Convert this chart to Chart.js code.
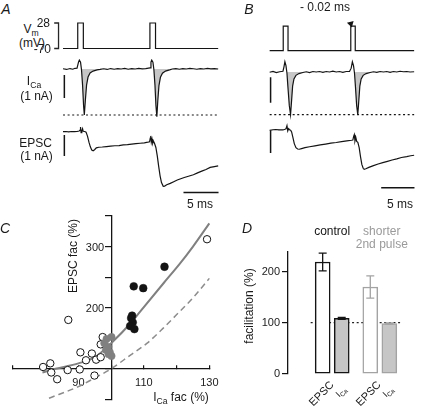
<!DOCTYPE html>
<html><head><meta charset="utf-8">
<script src="https://cdn.jsdelivr.net/npm/chart.js@4.4.1/dist/chart.umd.min.js"></script>
<style>
html,body{margin:0;padding:0;background:#fff}
body{width:424px;height:409px;position:relative;overflow:hidden;font-family:"Liberation Sans",Arial,sans-serif;color:#1a1a1a}
canvas{position:absolute}
.t{position:absolute;font-size:12px;line-height:1;white-space:nowrap}
.t sub{font-size:0.72em;vertical-align:-0.35em;line-height:0}
</style></head><body>
<canvas id="cA" width="172" height="210" style="left:48px;top:0"></canvas>
<canvas id="cB" width="163" height="210" style="left:259px;top:0"></canvas>
<canvas id="cC" width="230" height="209" style="left:0;top:200px"></canvas>
<canvas id="cD" width="176" height="150" style="left:248px;top:236px"></canvas>
<script>
// ---------------- DATA ----------------
const aVm = [[0,-70],[2.1,-70],[2.1,28],[2.9,28],[2.9,-70],[12.4,-70],[12.4,28],[13.2,28],[13.2,-70],[22.14,-70]];
const aICa = [[0,0.01],[0.5,-0.02],[1.0,0.02],[1.4,-0.01],[1.71,0.03],[2.0,0.04],[2.21,0.30],[2.33,0.39],[2.5,0.30],[2.64,-0.04],[2.79,-0.70],[2.93,-1.57],[3.04,-2.0],[3.19,-1.35],[3.36,-0.70],[3.57,-0.35],[3.86,-0.17],[4.29,-0.09],[4.86,-0.04],[5.29,-0.02],[5.8,0.01],[6.3,-0.02],[6.8,0.02],[7.3,-0.01],[7.8,0.02],[8.3,0.0],[8.8,0.03],[9.3,-0.01],[9.8,0.02],[10.3,0.0],[10.8,0.03],[11.3,0.01],[11.8,0.02],[12.2,0.04],[12.43,0.05],[12.55,0.30],[12.66,0.39],[12.83,0.30],[12.97,-0.04],[13.12,-0.70],[13.26,-1.6],[13.39,-2.07],[13.52,-1.4],[13.69,-0.72],[13.9,-0.36],[14.19,-0.18],[14.62,-0.09],[15.2,-0.04],[15.6,0.0],[16.1,0.02],[16.6,-0.01],[17.1,0.02],[17.6,0.0],[18.1,0.03],[18.6,0.01],[19.1,-0.01],[19.6,0.02],[20.1,0.0],[20.6,0.03],[21.1,0.01],[21.6,0.02],[22.14,0.0]];
const aEPSC = [[0,0],[0.4,0.01],[0.8,-0.01],[1.2,0.01],[1.6,0],[2,0.01],[2.3,0.03],[2.43,0.08],[2.5,0.22],[2.58,-0.05],[2.68,0.02],[2.79,0.14],[2.88,0.02],[3.1,0.01],[3.29,-0.02],[3.5,-0.22],[3.7,-0.5],[3.9,-0.72],[4.1,-0.87],[4.3,-0.91],[4.5,-0.86],[4.75,-0.77],[5.1,-0.74],[5.6,-0.73],[6.2,-0.71],[6.8,-0.69],[7.4,-0.67],[8,-0.66],[8.6,-0.63],[9.2,-0.62],[9.8,-0.59],[10.4,-0.57],[11,-0.55],[11.6,-0.53],[12.1,-0.5],[12.35,-0.48],[12.45,-0.3],[12.52,-0.2],[12.6,-0.5],[12.7,-0.35],[12.8,-0.55],[12.9,-0.45],[13.05,-0.55],[13.25,-0.75],[13.45,-1.15],[13.65,-1.65],[13.85,-2.1],[14.05,-2.42],[14.3,-2.6],[14.5,-2.59],[14.8,-2.53],[15.3,-2.46],[15.8,-2.38],[16.3,-2.3],[16.7,-2.25],[17.3,-2.18],[17.9,-2.12],[18.6,-2.05],[19.2,-1.96],[19.8,-1.88],[20.4,-1.8],[21,-1.7],[21.6,-1.66],[22.14,-1.63]];
const aShade = [[2.6,5.4],[12.95,15.3]];
const aCaPeak = -2.0;
const bVm = [[0,-70],[2.04,-70],[2.04,28],[2.76,28],[2.76,-70],[12.19,-70],[12.19,28],[12.86,28],[12.86,-70],[21.71,-70]];
const bICa = [[0,-0.01],[0.5,0.02],[1.0,-0.02],[1.5,0.01],[2.0,0.03],[2.15,0.2],[2.29,0.40],[2.45,0.25],[2.6,-0.05],[2.75,-0.6],[2.95,-1.3],[3.14,-1.66],[3.3,-1.1],[3.45,-0.55],[3.65,-0.27],[3.95,-0.13],[4.4,-0.06],[5.0,-0.02],[5.5,0.01],[6.0,-0.02],[6.5,0.02],[7.0,0.0],[7.5,0.02],[8.0,-0.01],[8.5,0.02],[9.0,0.0],[9.5,0.03],[10.0,0.0],[10.5,0.02],[11.0,-0.01],[11.5,0.02],[12.0,0.02],[12.25,0.15],[12.43,0.40],[12.6,0.25],[12.75,-0.05],[12.9,-0.6],[13.07,-1.3],[13.24,-1.66],[13.4,-1.1],[13.55,-0.55],[13.75,-0.27],[14.05,-0.13],[14.5,-0.06],[15.1,-0.02],[15.6,0.01],[16.1,-0.01],[16.6,0.02],[17.1,0.0],[17.6,0.02],[18.1,-0.01],[18.6,0.02],[19.1,0.0],[19.6,0.03],[20.1,0.01],[20.6,0.02],[21.1,0.0],[21.71,0.01]];
const bEPSC = [[0,-0.03],[0.5,0],[0.9,0.01],[1.4,-0.01],[2,-0.01],[2.3,0.02],[2.45,0.04],[2.6,0.18],[2.72,-0.05],[2.85,0.05],[2.98,0],[3.15,-0.02],[3.3,-0.1],[3.5,-0.35],[3.7,-0.62],[3.95,-0.8],[4.2,-0.86],[4.45,-0.87],[4.8,-0.84],[5.3,-0.8],[6,-0.76],[6.8,-0.72],[7.6,-0.68],[8.4,-0.64],[9.2,-0.6],[10,-0.57],[10.8,-0.53],[11.6,-0.5],[12.3,-0.47],[12.5,-0.46],[12.62,-0.3],[12.72,-0.22],[12.82,-0.5],[12.95,-0.35],[13.08,-0.52],[13.25,-0.56],[13.45,-0.8],[13.65,-1.2],[13.85,-1.55],[14.05,-1.72],[14.2,-1.77],[14.45,-1.74],[14.9,-1.68],[15.6,-1.6],[16.3,-1.53],[17,-1.47],[17.7,-1.41],[18.4,-1.35],[19.1,-1.3],[19.8,-1.24],[20.6,-1.2],[21.2,-1.16],[21.71,-1.14]];
const bShade = [[2.55,5.1],[12.7,15.2]];
const bCaPeak = -1.66;
const bArrow = [12.19, 37.6];
const vmTickLabels = ['28','-70'];
const vmTickValues = [28,-70];
const barNA = 1, barMs = 5;

const cOpenX = [79.2,81.4,81.7,83.5,86.9,86.7,90.4,90.6,92.3,94.1,94.9,95.4,96.8,97.4,96.8,129.3];
const cOpenY = [103,109,94,83,180,98,99,127,114,125,89,115,119,152,140,312];
const cGrayX = [100.1,98.6,97.9,99.1,98.4,99.6,100.1,99.2];
const cGrayY = [152,149,142,136,131,127,121,124];
const cBlackX = [106.9,109.8,116.3,106.4,106.1,106.6,105.8,107.1];
const cBlackY = [235,232,267,187,183,176,170,165];
const cFitX = [79,83,90,95,100,106,108.6,116,121,125,130];
const cFitY = [94,100,109,119,142,175,192,240,272,300,338];
const cPredX = [81,90,96,100,106,111,116,121,125,130];
const cPredY = [52,71,88,100,123,142,167,194,216,248];
const cXLabels = [90,110,130];
const cYLabels = [200,300];

const dCats = ['EPSC','I_Ca','EPSC','I_Ca'];
const dGroups = ['control','shorter<br>2nd pulse'];
const dMean = [219,108.6,170,98.5];
const dErr = [17.5,2,22,1];

// ---------------- LAYOUT / STYLE ----------------
Chart.defaults.font.family = '"Liberation Sans", Arial, sans-serif';
Chart.defaults.font.size = 11;
Chart.defaults.color = '#1a1a1a';
Chart.defaults.plugins.colors = {enabled: false};
const INK = '#141414', GRAYLINE = '#808080', FILLG = '#c6c6c6', EDGEG = '#a3a3a3';

function addText(html, x, y, o = {}) {
  const d = document.createElement('div');
  d.className = 't'; d.innerHTML = html;
  d.style.left = x + 'px'; d.style.top = y + 'px';
  if (o.size) d.style.fontSize = o.size + 'px';
  if (o.color) d.style.color = o.color;
  if (o.italic) d.style.fontStyle = 'italic';
  if (o.center) d.style.textAlign = 'center';
  if (o.lh) d.style.lineHeight = o.lh;
  let tf = o.anchor === 'right' ? 'translate(-100%,-50%)' : 'translate(-50%,-50%)';
  if (o.rot) tf += ' rotate(' + o.rot + 'deg)';
  d.style.transform = tf;
  if (o.anchor === 'right') d.style.transformOrigin = '100% 50%';
  document.body.appendChild(d);
}
const fmt = s => s.replace(/_(\w+)/, '<sub>$1</sub>');
const pts = arr => arr.map(([x, y]) => ({x, y}));
const xy = (X, Y) => X.map((x, i) => ({x, y: Y[i]}));

function traceLine(data, axis, extra = {}) {
  return Object.assign({type: 'line', data: pts(data), yAxisID: axis, borderColor: INK, backgroundColor: INK, borderWidth: 1.2,
    pointRadius: 0, tension: 0, fill: false, order: 1}, extra);
}
function shadeSets(trace, ranges, axis) {
  return ranges.map(([t0, t1]) => ({type: 'line', data: pts(trace.filter(p => p[0] >= t0 && p[0] <= t1)),
    yAxisID: axis, borderWidth: 0, borderColor: FILLG, pointRadius: 0, backgroundColor: FILLG, fill: {value: 0}, order: 5}));
}

function traceChart(id, cfg) {
  const ds = [
    ...shadeSets(cfg.ica, cfg.shade, 'yC'),
    traceLine(cfg.vm, 'yV'),
    traceLine(cfg.ica, 'yC'),
    traceLine(cfg.epsc, 'yE'),
    traceLine([[0, cfg.peak], [cfg.vm[cfg.vm.length - 1][0], cfg.peak]], 'yC', {borderDash: [2, 2.6], borderWidth: 1.1}),
    traceLine([[cfg.sbx, cfg.icaBarTop], [cfg.sbx, cfg.icaBarTop - barNA]], 'yC', {borderWidth: 1.5}),
    traceLine([[cfg.sbx, cfg.epBarTop], [cfg.sbx, cfg.epBarTop - barNA]], 'yE', {borderWidth: 1.5}),
    traceLine([[cfg.tbar, cfg.tbarY], [cfg.tbar + barMs, cfg.tbarY]], 'yE', {borderWidth: 1.5}),
  ];
  if (cfg.bracket) ds.push(traceLine([[cfg.bracket[0], vmTickValues[0]], [cfg.bracket[1], vmTickValues[0]],
    [cfg.bracket[1], vmTickValues[1]], [cfg.bracket[0], vmTickValues[1]]], 'yV', {borderWidth: 1.3, borderColor: '#262626', backgroundColor: '#262626'}));
  if (cfg.arrow) ds.push({type: 'scatter', data: [{x: cfg.arrow[0], y: cfg.arrow[1]}], yAxisID: 'yV',
    pointStyle: 'triangle', rotation: 165, pointRadius: 4, backgroundColor: INK, borderColor: INK, borderWidth: 0, order: 0});
  return new Chart(document.getElementById(id), {
    data: {datasets: ds},
    options: {
      responsive: false, animation: false, devicePixelRatio: 1,
      layout: {padding: 0},
      plugins: {legend: {display: false}, tooltip: {enabled: false}, colors: {enabled: false}},
      elements: {line: {borderCapStyle: 'butt'}},
      scales: {
        x: {type: 'linear', display: false, min: cfg.xmin, max: cfg.xmax},
        yV: {type: 'linear', display: false, min: cfg.vmRange[0], max: cfg.vmRange[1]},
        yC: {type: 'linear', display: false, min: cfg.caRange[0], max: cfg.caRange[1]},
        yE: {type: 'linear', display: false, min: cfg.epRange[0], max: cfg.epRange[1]},
      },
      clip: false
    }
  });
}

traceChart('cA', {vm: aVm, ica: aICa, epsc: aEPSC, shade: aShade, peak: aCaPeak,
  xmin: -2.143, xmax: 22.4, vmRange: [-690.6, 116.4], caRange: [-6.13, 3.0], epRange: [-3.729, 6.271],
  sbx: 0.19, icaBarTop: -0.26, epBarTop: -0.16, tbar: 17.19, tbarY: -2.9,
  bracket: [-1.26, -0.64]});
traceChart('cB', {vm: bVm, ica: bICa, epsc: bEPSC, shade: bShade, peak: bCaPeak,
  xmin: -1.0, xmax: 22.29, vmRange: [-690.6, 116.4], caRange: [-5.217, 2.648], epRange: [-3.403, 5.609],
  sbx: 0.14, icaBarTop: -0.2, epBarTop: -0.04, tbar: 16.76, tbarY: -2.59, arrow: bArrow});

// ---------------- Panel C ----------------
const C_LEFT = 0, C_TOP = 200;
const chartC = new Chart(document.getElementById('cC'), {
  type: 'scatter',
  data: {datasets: [
    {data: xy(cOpenX, cOpenY), pointStyle: 'circle', pointRadius: 3.7, backgroundColor: '#fff', borderColor: INK, borderWidth: 1, order: 1},
    {data: xy(cGrayX, cGrayY), pointStyle: 'circle', pointRadius: 3.7, backgroundColor: GRAYLINE, borderColor: GRAYLINE, borderWidth: 0.5, order: 0},
    {data: xy(cBlackX, cBlackY), pointStyle: 'circle', pointRadius: 3.9, backgroundColor: INK, borderColor: INK, borderWidth: 0.5, order: 0},
    {type: 'line', data: xy(cFitX, cFitY), borderColor: GRAYLINE, borderWidth: 2, pointRadius: 0, cubicInterpolationMode: 'monotone', order: 5},
    {type: 'line', data: xy(cPredX, cPredY), borderColor: '#8c8c8c', borderWidth: 1.5, borderDash: [6, 4], pointRadius: 0, cubicInterpolationMode: 'monotone', order: 5},
  ]},
  options: {
    responsive: false, animation: false, devicePixelRatio: 1,
    layout: {padding: {left: 13, right: 16.5, top: 16, bottom: 7}},
    plugins: {legend: {display: false}, tooltip: {enabled: false}, colors: {enabled: false}},
    clip: false,
    scales: {
      x: {type: 'linear', min: 70, max: 130, position: {y: 100},
        afterFit: s => { s.height = 0; },
        ticks: {stepSize: 10, padding: 11.5, color: '#222', callback: v => cXLabels.includes(v) ? String(v) : ''},
        grid: {drawOnChartArea: false, tickLength: -4, color: INK, lineWidth: 1.2},
        border: {color: INK, width: 1.3}},
      y: {type: 'linear', min: 50, max: 350, position: {x: 100},
        afterFit: s => { s.width = 0; },
        ticks: {stepSize: 50, callback: () => ''},
        grid: {drawOnChartArea: false, tickLength: 6, color: INK, lineWidth: 1.2},
        border: {color: INK, width: 1.3}},
    }
  }
});
{
  const axX = C_LEFT + chartC.scales.x.getPixelForValue(100);
  cYLabels.forEach(v => addText(String(v), axX - 7, C_TOP + chartC.scales.y.getPixelForValue(v), {anchor: 'right', size: 11, color: '#222'}));
}
addText('EPSC fac (%)', 73, 256, {rot: -90});
addText('I<sub>Ca</sub> fac (%)', 181, 397);

// ---------------- Panel D ----------------
const D_LEFT = 248, D_TOP = 236;
const dSlots = [0, 2, 5, 7];
const dFill = ['#fff', FILLG, '#fff', FILLG];
const dEdge = [INK, INK, EDGEG, EDGEG];
const D_XMIN = -1.26, D_XMAX = 8.26;
const errPlugin = {id: 'errbars', afterDatasetsDraw(chart) {
  const {ctx, scales: {x, y}} = chart;
  ctx.save(); ctx.lineWidth = 1.3;
  dMean.forEach((m, i) => {
    const px = x.getPixelForValue(dSlots[i]);
    const hi = y.getPixelForValue(m + dErr[i]), lo = y.getPixelForValue(m - dErr[i]);
    ctx.strokeStyle = dEdge[i];
    ctx.beginPath();
    ctx.moveTo(px, hi); ctx.lineTo(px, lo);
    ctx.moveTo(px - 4, hi); ctx.lineTo(px + 4, hi);
    ctx.moveTo(px - 4, lo); ctx.lineTo(px + 4, lo);
    ctx.stroke();
  });
  ctx.restore();
}};
const chartD = new Chart(document.getElementById('cD'), {
  type: 'bar',
  data: {datasets: [
    {data: dMean.map((v, i) => ({x: dSlots[i], y: v})), backgroundColor: dFill, borderColor: dEdge,
      borderWidth: 1.5, borderSkipped: false, barThickness: 15, order: 1, clip: false},
    {type: 'line', data: [{x: D_XMIN, y: 100}, {x: D_XMAX, y: 100}], borderColor: '#222', borderWidth: 1.2,
      borderDash: [2, 2.6], pointRadius: 0, order: 5, clip: false},
  ]},
  options: {
    responsive: false, animation: false, devicePixelRatio: 1,
    layout: {padding: {left: 0, right: 0, top: 15.3, bottom: 12.3}},
    plugins: {legend: {display: false}, tooltip: {enabled: false}, colors: {enabled: false}},
    scales: {
      x: {type: 'linear', display: false, min: D_XMIN, max: D_XMAX},
      y: {type: 'linear', min: 0, max: 240, afterFit: s => { s.width = 40; },
        ticks: {stepSize: 100, includeBounds: false, padding: 2, color: '#222', font: {size: 11}},
        grid: {drawOnChartArea: false, tickLength: 6, color: INK, lineWidth: 1.2},
        border: {color: INK, width: 1.3}},
    }
  },
  plugins: [errPlugin]
});
dCats.forEach((c, i) => {
  const px = D_LEFT + chartD.scales.x.getPixelForValue(dSlots[i]);
  const isE = c === 'EPSC';
  addText(fmt(c), px + (isE ? 9 : 3), isE ? 383 : 388, {anchor: 'right', rot: -45, size: isE ? 11 : 9});
});
[[0, 1], [2, 3]].forEach((g, k) => {
  const cx = D_LEFT + (chartD.scales.x.getPixelForValue(dSlots[g[0]]) + chartD.scales.x.getPixelForValue(dSlots[g[1]])) / 2;
  addText(dGroups[k], cx + (k ? 2 : 0), k ? 238.5 : 232, {center: true, lh: '1.15', color: k ? '#9a9a9a' : INK});
});
addText('facilitation (%)', 249, 306, {rot: -90});

addText('A', 6, 9, {italic: true, size: 14});
addText('B', 249, 9, {italic: true, size: 14});
addText('C', 5, 228, {italic: true, size: 14});
addText('D', 247, 228, {italic: true, size: 14});
addText('V<sub>m</sub>', 31, 29);
addText('(mV)', 32, 42.5);
addText(vmTickLabels[0], 50, 23, {anchor: 'right'});
addText(vmTickLabels[1], 51, 48.5, {anchor: 'right'});
addText('I<sub>Ca</sub>', 34, 81);
addText('(1 nA)', 36.5, 95.5);
addText('EPSC', 35.5, 142.5);
addText('(1 nA)', 36.5, 155.5);
addText('5 ms', 200, 204);
addText('5 ms', 400, 204);
addText('- 0.02 ms', 325, 7);
</script>
</body></html>
